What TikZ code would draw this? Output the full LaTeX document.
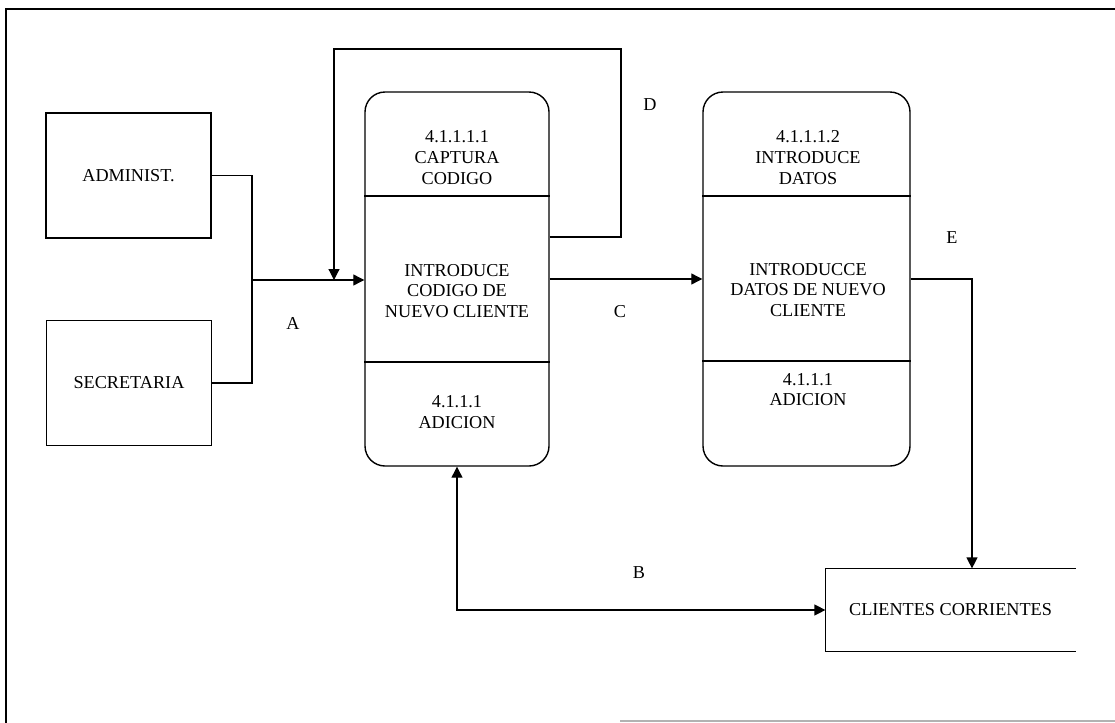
\documentclass[tikz,border=0pt]{standalone}
\usepackage{fontspec}
\setmainfont{Liberation Serif}
\usetikzlibrary{arrows.meta}

\begin{document}
\begin{tikzpicture}[x=0.5pt,y=-0.5pt,>={Triangle[length=5.5pt,width=5.5pt]},line width=0.6pt]
\tikzstyle{every node}=[font=\fontsize{9.1}{10.3}\selectfont,align=center,inner sep=0pt]
\tikzstyle{ext}=[draw,line width=0.7pt,minimum width=82.5pt,minimum height=62.5pt]
\tikzstyle{proc}=[draw,line width=0.7pt,rounded corners=10pt,minimum height=187pt]
\tikzstyle{bar}=[line width=0.7pt]

\useasboundingbox (0,0) rectangle (1115,723);

% frame
\draw[line width=1.2pt] (6,723) -- (6,9) -- (1115,9);
\draw[black!30,line width=0.8pt] (620,721) -- (1115,721);

% entities
\node[ext] (adm) at (128.5,175.5) {ADMINIST.};
\node[ext] (sec) at (129,383) {SECRETARIA};

% processes
\node[proc,minimum width=92pt] (p1) at (457,279) {};
\draw[bar] (p1.west |- 0,196) -- (p1.east |- 0,196);
\draw[bar] (p1.west |- 0,362) -- (p1.east |- 0,362);
\node (p1top) at (457,157.5) {4.1.1.1.1\\CAPTURA\\CODIGO};
\node (p1mid) at (457,291) {INTRODUCE\\CODIGO DE\\NUEVO CLIENTE};
\node (p1bot) at (457,412) {4.1.1.1\\ADICION};

\node[proc,minimum width=103.5pt] (p2) at (806.5,279) {};
\draw[bar] (p2.west |- 0,196) -- (p2.east |- 0,196);
\draw[bar] (p2.west |- 0,361) -- (p2.east |- 0,361);
\node (p2top) at (808,157.5) {4.1.1.1.2\\INTRODUCE\\DATOS};
\node (p2mid) at (808,290) {INTRODUCCE\\DATOS DE NUEVO\\CLIENTE};
\node (p2bot) at (808,389.5) {4.1.1.1\\ADICION};

% data store, open on the right
\node[minimum width=124.5pt,minimum height=41pt] (store) at (950.5,610) {CLIENTES CORRIENTES};
\draw[bar] (store.north east) -- (store.north west) -- (store.south west) -- (store.south east);

% flows
\coordinate (ja) at (252,280);
\coordinate (dl) at (334,280);
\draw (adm.east) -| (ja);
\draw (sec.east) -| (ja);
\draw[->] (ja) -- (p1.west |- ja);
\draw[->] (p1.east |- 0,237) -- (621,237) -- (621,49) -- (334,49) -- (dl);
\draw[->] (p1.east) -- (p2.west);
\draw[->] (p2.east) -| ([xshift=10.75pt]store.north);
\draw[<->] (p1.south) |- (store.west);

% labels
\node (la) at (293,323) {A};
\node (lb) at (639,573) {B};
\node (lc) at (620,312) {C};
\node (ld) at (650,105) {D};
\node (le) at (952,238) {E};

\end{tikzpicture}
\end{document}
